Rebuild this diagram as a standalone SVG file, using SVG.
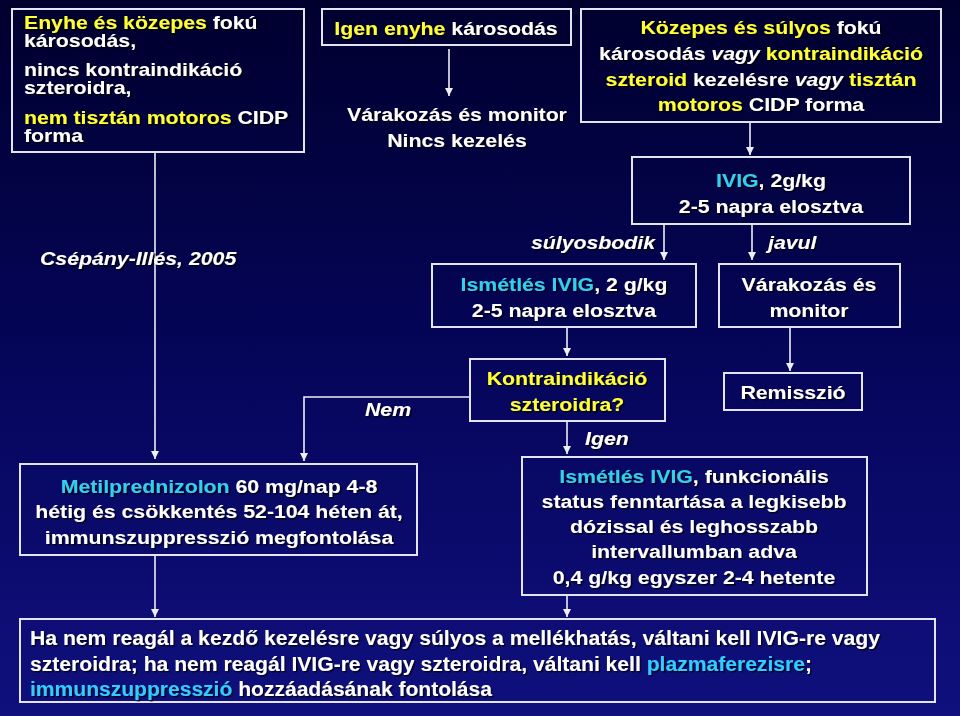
<svg xmlns="http://www.w3.org/2000/svg" width="960" height="716" viewBox="0 0 960 716">
<defs>
<linearGradient id="bg" x1="0" y1="0" x2="0" y2="1">
<stop offset="0" stop-color="#00002e"/>
<stop offset="0.5" stop-color="#05055a"/>
<stop offset="1" stop-color="#10107e"/>
</linearGradient>
<filter id="sh" x="-5%" y="-20%" width="110%" height="140%">
<feDropShadow dx="1.5" dy="1.5" stdDeviation="0.6" flood-color="#000000" flood-opacity="0.75"/>
</filter>
<marker id="ah" viewBox="0 0 10 10" refX="10" refY="5" markerWidth="8" markerHeight="8" markerUnits="userSpaceOnUse" orient="auto">
<path d="M0,0 L10,5 L0,10 z" fill="#eeeef6"/>
</marker>
<style>
.box{fill:none;stroke:#e4e4f0;stroke-width:2}
.t{font-family:"Liberation Sans",Arial,sans-serif;font-weight:bold;font-size:19px;fill:#ffffff;filter:url(#sh)}
.s{font-size:18px}
.c{text-anchor:middle}
.e{text-anchor:end}
.y{fill:#ffff33}
.b{fill:#33d0ee}
.b2{fill:#33ccff}
.i{font-style:italic}
.bt{font-size:20px}
.ln{fill:none;stroke:#eeeef6;stroke-width:1.6}
.ar{marker-end:url(#ah)}
</style>
</defs>
<rect x="0" y="0" width="960" height="716" fill="url(#bg)"/>

<g id="connectors">
<path class="ln ar" d="M155,152 V459"/>
<path class="ln ar" d="M449,49 V96"/>
<path class="ln ar" d="M750,122 V155"/>
<path class="ln ar" d="M664,224 V260"/>
<path class="ln ar" d="M752,224 V260"/>
<path class="ln ar" d="M567,328 V356"/>
<path class="ln ar" d="M790,328 V371"/>
<path class="ln ar" d="M470,397 H304 V461"/>
<path class="ln ar" d="M567,421 V454"/>
<path class="ln ar" d="M155,555 V617"/>
<path class="ln ar" d="M567,595 V617"/>
</g>

<g id="n1">
<rect class="box" x="12" y="9" width="292" height="143"/>
<text class="t s" transform="translate(24,29) scale(1.18,1)"><tspan class="y">Enyhe és közepes</tspan> fokú</text>
<text class="t s" transform="translate(24,47) scale(1.18,1)">károsodás,</text>
<text class="t s" transform="translate(24,76) scale(1.18,1)">nincs kontraindikáció</text>
<text class="t s" transform="translate(24,94) scale(1.18,1)">szteroidra,</text>
<text class="t s" transform="translate(24,124) scale(1.18,1)"><tspan class="y">nem tisztán motoros</tspan> CIDP</text>
<text class="t s" transform="translate(24,142) scale(1.18,1)">forma</text>
</g>

<g id="n2">
<rect class="box" x="322" y="9" width="249" height="36"/>
<text class="t c" transform="translate(446,35) scale(1.12,1)"><tspan class="y">Igen enyhe</tspan> károsodás</text>
</g>

<g id="n3">
<text class="t c" transform="translate(457,121) scale(1.12,1)">Várakozás és monitor</text>
<text class="t c" transform="translate(457,147) scale(1.12,1)">Nincs kezelés</text>
</g>

<g id="n4">
<rect class="box" x="581" y="9" width="360" height="113"/>
<text class="t c" transform="translate(761,34) scale(1.12,1)"><tspan class="y">Közepes és súlyos</tspan> fokú</text>
<text class="t c" transform="translate(761,60) scale(1.12,1)">károsodás <tspan class="i">vagy</tspan> <tspan class="y">kontraindikáció</tspan></text>
<text class="t c" transform="translate(761,86) scale(1.12,1)"><tspan class="y">szteroid</tspan> kezelésre <tspan class="i">vagy</tspan> <tspan class="y">tisztán</tspan></text>
<text class="t c" transform="translate(761,111) scale(1.12,1)"><tspan class="y">motoros</tspan> CIDP forma</text>
</g>

<g id="n5">
<text class="t i" transform="translate(40,265) scale(1.12,1)">Csépány-Illés, 2005</text>
</g>

<g id="n6">
<rect class="box" x="632" y="157" width="278" height="67"/>
<text class="t c" transform="translate(771,187) scale(1.12,1)"><tspan class="b">IVIG</tspan>, 2g/kg</text>
<text class="t c" transform="translate(771,213) scale(1.12,1)">2-5 napra elosztva</text>
</g>

<g id="n7">
<text class="t i e" transform="translate(655,249) scale(1.12,1)">súlyosbodik</text>
<text class="t i" transform="translate(768,249) scale(1.12,1)">javul</text>
</g>

<g id="n8">
<rect class="box" x="432" y="264" width="264" height="63"/>
<text class="t c" transform="translate(564,291) scale(1.12,1)"><tspan class="b">Ismétlés IVIG</tspan>, 2 g/kg</text>
<text class="t c" transform="translate(564,317) scale(1.12,1)">2-5 napra elosztva</text>
</g>

<g id="n9">
<rect class="box" x="719" y="264" width="181" height="63"/>
<text class="t c" transform="translate(809,291) scale(1.12,1)">Várakozás és</text>
<text class="t c" transform="translate(809,317) scale(1.12,1)">monitor</text>
</g>

<g id="n10">
<rect class="box" x="470" y="359" width="195" height="62"/>
<text class="t c y" transform="translate(567,385) scale(1.12,1)">Kontraindikáció</text>
<text class="t c y" transform="translate(567,411) scale(1.12,1)">szteroidra?</text>
</g>

<g id="n11">
<rect class="box" x="724" y="373" width="138" height="37"/>
<text class="t c" transform="translate(793,399) scale(1.12,1)">Remisszió</text>
</g>

<g id="n12">
<text class="t i" transform="translate(365,416) scale(1.12,1)">Nem</text>
<text class="t i" transform="translate(585,445) scale(1.12,1)">Igen</text>
</g>

<g id="n13">
<rect class="box" x="20" y="464" width="397" height="91"/>
<text class="t c" transform="translate(219,493) scale(1.12,1)"><tspan class="b">Metilprednizolon</tspan> 60 mg/nap 4-8</text>
<text class="t c" transform="translate(219,518) scale(1.12,1)">hétig és csökkentés 52-104 héten át,</text>
<text class="t c" transform="translate(219,544) scale(1.12,1)">immunszuppresszió megfontolása</text>
</g>

<g id="n14">
<rect class="box" x="522" y="457" width="345" height="138"/>
<text class="t c" transform="translate(694,483) scale(1.12,1)"><tspan class="b">Ismétlés IVIG</tspan>, funkcionális</text>
<text class="t c" transform="translate(694,508) scale(1.12,1)">status fenntartása a legkisebb</text>
<text class="t c" transform="translate(694,533) scale(1.12,1)">dózissal és leghosszabb</text>
<text class="t c" transform="translate(694,558) scale(1.12,1)">intervallumban adva</text>
<text class="t c" transform="translate(694,584) scale(1.12,1)">0,4 g/kg egyszer 2-4 hetente</text>
</g>

<g id="n15">
<rect class="box" x="20" y="619" width="915" height="83"/>
<text class="t bt" x="30" y="645" textLength="850" lengthAdjust="spacingAndGlyphs">Ha nem reagál a kezdő kezelésre vagy súlyos a mellékhatás, váltani kell IVIG-re vagy</text>
<text class="t bt" x="30" y="671" textLength="782" lengthAdjust="spacingAndGlyphs">szteroidra; ha nem reagál IVIG-re vagy szteroidra, váltani kell <tspan class="b2">plazmaferezisre</tspan>;</text>
<text class="t bt" x="30" y="696" textLength="462" lengthAdjust="spacingAndGlyphs"><tspan class="b2">immunszuppresszió</tspan> hozzáadásának fontolása</text>
</g>
</svg>
